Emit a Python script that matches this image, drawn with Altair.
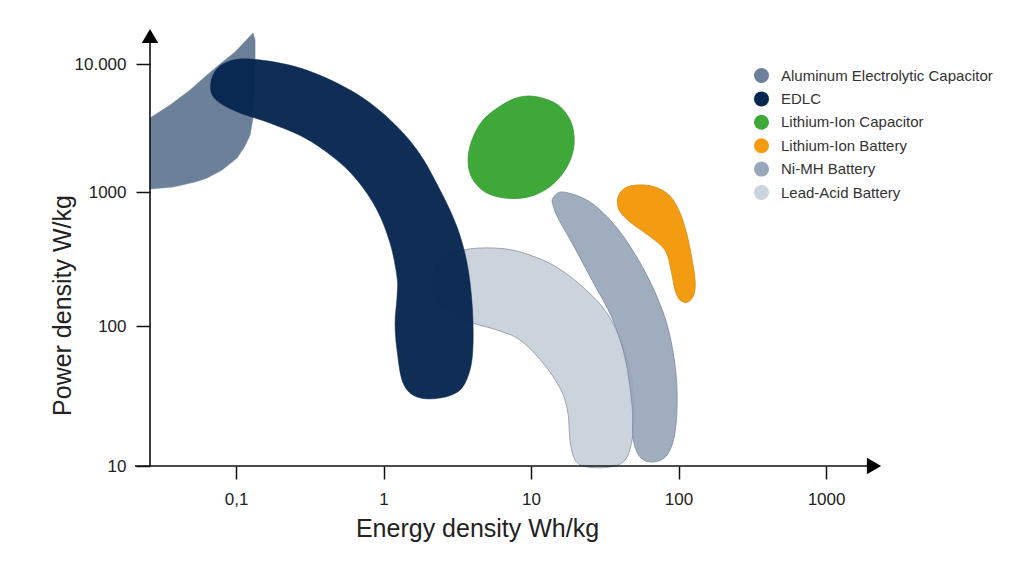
import altair as alt
import pandas as pd

# ---- data (energy density Wh/kg, power density W/kg) ----
names = ["Aluminum Electrolytic Capacitor", "EDLC", "Lithium-Ion Capacitor",
         "Lithium-Ion Battery", "Ni-MH Battery", "Lead-Acid Battery"]
colors = ["#6d8099", "#072650", "#3ea938", "#f39c12", "#97a6b8", "#cbd3dd"]

alu_e = [0.0261, 0.0374, 0.0527, 0.0636, 0.0804, 0.1016, 0.115, 0.1245, 0.1303, 0.1324,
         0.1346, 0.1346, 0.1303, 0.0985, 0.0779, 0.0636, 0.0488, 0.0357, 0.0261]
alu_p = [1055, 1094, 1197, 1286, 1485, 1844, 2287, 2786, 3787, 6266,
         10740, 15400, 17460, 12410, 10000, 8204, 6266, 4786, 3787]

edlc_e = [0.0677, 0.0698, 0.0842, 0.1245, 0.272, 0.593, 1.056, 1.687, 2.416, 3.15,
          3.68, 3.98, 4.045, 3.855, 3.30, 2.416, 1.687, 1.356, 1.234, 1.197,
          1.234, 1.234, 1.107, 0.903, 0.661, 0.455, 0.2845, 0.162, 0.1064, 0.0779]
edlc_p = [6040, 8204, 10180, 10940, 9305, 6266, 3855, 2130, 1037, 548,
          295, 148.5, 75.6, 48.5, 34.9, 30.6, 31.1, 39.2, 67.4, 105.3,
          164.5, 232, 416, 734, 1241, 1875, 2692, 3524, 4140, 4955]

lic_e = [11.15, 15.24, 18.37, 19.58, 18.97, 16.48, 13.04, 9.55, 6.67, 4.88,
         3.98, 3.74, 3.98, 4.73, 6.36, 8.42]
lic_p = [5520, 4786, 3652, 2692, 1945, 1407, 1074, 918, 902, 1000,
         1286, 1778, 2547, 3652, 4786, 5520]

lib_e = [38.9, 43.4, 53.1, 69.3, 87.5, 102.4, 114.2, 123.6, 129.4, 127.4, 115.9,
         102.4, 94.7, 88.9, 80.9, 62.1, 46.9, 39.5]
lib_p = [918, 1074, 1135, 1094, 933, 697, 477, 311, 220, 173, 151,
         156, 186, 262, 369, 477, 597, 734]

nimh_e = [14.09, 16.48, 25.1, 38.3, 57.4, 78.5, 91.8, 97.7, 94.7, 83.6, 67.1, 54.8,
          49.2, 48.4, 43.4, 35.4, 26.3, 19.3, 15.24, 14.09]
nimh_p = [902, 1000, 841, 538, 271, 127.2, 65.2, 33.8, 17.5, 11.98, 10.68, 11.6,
          15.85, 27.3, 59.1, 114.7, 213, 402, 640, 800]

lead_e = [2.166, 2.416, 3.46, 5.52, 8.42, 14.09, 22.5, 32.7, 42.1, 48.4, 49.9, 48.4,
          43.4, 34.3, 24.0, 19.9, 18.37, 17.8, 15.97, 12.05, 8.42, 5.88, 4.045,
          2.96, 2.305]
lead_p = [209, 311, 369, 382, 357, 285, 195, 125, 70.8, 41.1, 23.9, 15.3,
          11.04, 9.84, 9.84, 11.04, 15.3, 23.9, 34.9, 54.4, 79.4, 93.6, 105.3,
          125, 156]

x_ticks = [0.1, 1, 10, 100, 1000]
y_ticks = [10, 100, 1000, 10000]

FONT = "Liberation Sans"
W, H = 720, 436

xs = alt.Scale(type="log", domain=[0.0261, 1986], nice=False, zero=False)
# the reference's decades are slightly uneven: piecewise log scale
ys = alt.Scale(type="log", domain=[10, 100, 1000, 10000, 18450],
               range=[436, 296, 162, 34, 0], nice=False, zero=False)

xaxis = alt.Axis(values=x_ticks, grid=False, domain=False, tickColor="#111",
                 tickWidth=1.5, tickSize=13, labelPadding=12, labelFontSize=17,
                 labelColor="#222", labelFont=FONT,
                 labelExpr="datum.value < 1 ? '0,1' : '' + datum.value",
                 titleFontSize=25, titleFontWeight="normal", titleColor="#222",
                 titleFont=FONT, titleX=327, titleY=62, titleAlign="center",
                 titleBaseline="middle")
yaxis = alt.Axis(values=y_ticks, grid=False, domain=False, tickColor="#111",
                 tickWidth=1.5, tickSize=14, labelPadding=10, labelFontSize=17,
                 labelColor="#222", labelFont=FONT,
                 labelExpr="datum.value == 10000 ? '10.000' : '' + datum.value",
                 titleFontSize=25, titleFontWeight="normal", titleColor="#222",
                 titleFont=FONT, titleX=-88, titleY=275, titleAlign="center",
                 titleBaseline="middle", titleAngle=270)

X = alt.X("e:Q", scale=xs, axis=xaxis, title="Energy density Wh/kg")
Y = alt.Y("p:Q", scale=ys, axis=yaxis, title="Power density W/kg")


def blob(e, p, fill, stroke, interp="cardinal-closed", opacity=1.0, sw=0.8):
    df = pd.DataFrame({"e": e, "p": p, "i": list(range(len(e)))})
    return alt.Chart(df).mark_line(
        interpolate=interp, fill=fill, stroke=stroke, strokeWidth=sw,
        fillOpacity=opacity, clip=False
    ).encode(x=X, y=Y, order="i:Q")


alu = blob(alu_e, alu_p, colors[0], colors[0], interp="linear-closed", sw=0.5)
lead = blob(lead_e, lead_p, colors[5], "#8b939d")
edlc = blob(edlc_e, edlc_p, colors[1], colors[1], opacity=0.97, sw=0.5)
nimh = blob(nimh_e, nimh_p, colors[4], "#7a889a", opacity=0.92)
lic = blob(lic_e, lic_p, colors[2], "#399a33")
lib = blob(lib_e, lib_p, colors[3], "#d98a10")

legend_df = pd.DataFrame({"name": names, "e": [1] * 6, "p": [100] * 6})
legend_layer = alt.Chart(legend_df).mark_point(filled=True, opacity=0, size=1).encode(
    x=X, y=Y,
    color=alt.Color("name:N", scale=alt.Scale(domain=names, range=colors), title=None,
                    legend=alt.Legend(orient="none", legendX=604, legendY=38,
                                      symbolType="circle", symbolSize=225,
                                      symbolOpacity=1, symbolStrokeWidth=0,
                                      labelFontSize=15, labelFont=FONT,
                                      labelColor="#333", labelOffset=12,
                                      labelLimit=400, rowPadding=7.4, padding=0))
)

one = pd.DataFrame({"a": [0]})
x_line = alt.Chart(one).mark_rule(color="#111", strokeWidth=1.6).encode(
    x=alt.value(-15), x2=alt.value(718), y=alt.value(H))
y_line = alt.Chart(one).mark_rule(color="#111", strokeWidth=1.6).encode(
    x=alt.value(0), y=alt.value(4), y2=alt.value(H))
up_arrow = alt.Chart(one).mark_point(shape="triangle-up", filled=True, color="#000",
                                     opacity=1, size=270).encode(
    x=alt.value(0), y=alt.value(6))
right_arrow = alt.Chart(one).mark_point(shape="triangle-right", filled=True, color="#000",
                                        opacity=1, size=270).encode(
    x=alt.value(724), y=alt.value(H))

chart = alt.layer(
    alu, lead, edlc, nimh, lic, lib, legend_layer, x_line, y_line, up_arrow, right_arrow
).properties(
    width=W, height=H,
    autosize=alt.AutoSizeParams(type="none"),
    padding={"left": 150, "top": 30, "right": 154, "bottom": 95},
    background="#ffffff"
).configure_view(stroke=None)

chart.save("out.html", embed_options={"renderer": "svg", "actions": False})
